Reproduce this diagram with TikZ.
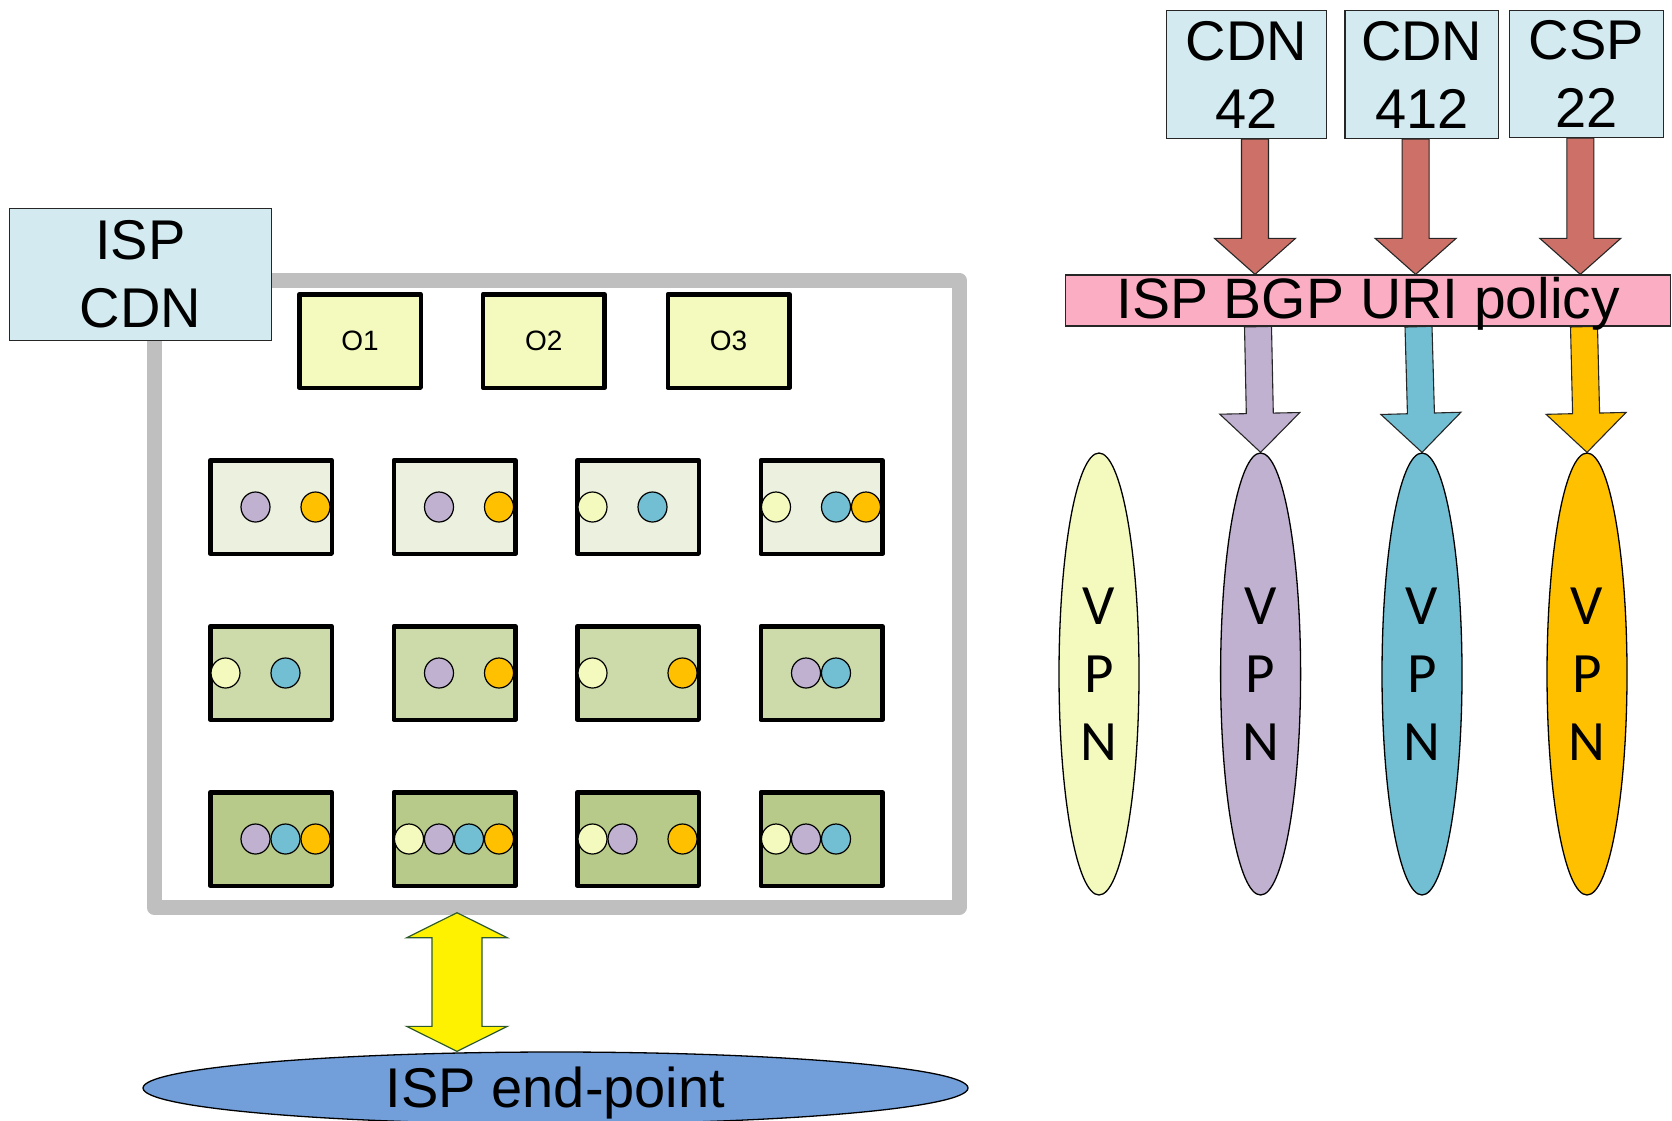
\documentclass[tikz,border=0pt]{standalone}
\usepackage{fontspec}
\setmainfont{Liberation Sans}
\newfontfamily\vpnfont{Carlito}
\usetikzlibrary{shapes.geometric,calc,backgrounds}

\definecolor{cdnblue}{HTML}{D2EAF0}
\definecolor{oyellow}{HTML}{F4F9BE}
\definecolor{rowa}{HTML}{EBF0DF}
\definecolor{rowb}{HTML}{CDDBAB}
\definecolor{rowc}{HTML}{B7CA89}
\definecolor{vpnyellow}{HTML}{F4F9BE}
\definecolor{vpnpurple}{HTML}{C0B1D1}
\definecolor{vpnblue}{HTML}{72BFD3}
\definecolor{vpnorange}{HTML}{FFC000}
\definecolor{policypink}{HTML}{FAADC3}
\definecolor{peerred}{HTML}{CD7168}
\definecolor{endblue}{HTML}{729EDA}
\definecolor{framegray}{HTML}{BFBFBF}
\definecolor{linkgreen}{HTML}{2E5A2E}

\tikzset{
  cdnbox/.style={draw=black!85, line width=1.3pt, fill=cdnblue, inner sep=0pt, align=center, font=\fontsize{56}{68}\selectfont},
  obox/.style={draw, line width=4.5pt, line join=round, fill=oyellow, minimum width=121.5pt, minimum height=93.5pt, font=\fontsize{28}{34}\selectfont},
  cachebox/.style={draw, line width=4.5pt, line join=round, minimum width=121.5pt, minimum height=93.5pt},
  flow/.style={ellipse, draw, line width=1.2pt, minimum width=29pt, minimum height=30pt, inner sep=0pt},
  vpn/.style={ellipse, draw, line width=1.3pt, minimum width=80pt, minimum height=442pt, inner sep=0pt, align=center, font=\vpnfont\fontsize{57}{68}\selectfont},
}

% fat arrow: style, tail, tip, shaft half width, head half width, head length
\newcommand{\blockarrow}[6]{%
  \path (#2) coordinate (ba-a) (#3) coordinate (ba-b);
  \path ($(ba-b)!#6!(ba-a)$) coordinate (ba-h);
  \filldraw[#1] ($(ba-a)!#4!90:(ba-b)$) -- ($(ba-h)!#4!-90:(ba-a)$)
    -- ($(ba-h)!#5!-90:(ba-a)$) -- (ba-b) -- ($(ba-h)!#5!90:(ba-a)$)
    -- ($(ba-h)!#4!90:(ba-a)$) -- ($(ba-a)!#4!-90:(ba-b)$) -- cycle;
}

\begin{document}
\begin{tikzpicture}[x=1pt, y=-1pt]
    \useasboundingbox (0,0) rectangle (1672,1120);

    % ISP network frame
    \node[draw=framegray, line width=15pt, line join=round, minimum width=805pt, minimum height=627.5pt, inner sep=0pt] (frame) at (556.5,593.75) {};
    \node[cdnbox, minimum width=262pt, minimum height=132pt] (ispcdn) at (140.5,274.5) {ISP\\CDN};

    % Origins
    \foreach \x/\lbl in {360/O1, 543.8/O2, 728.5/O3}
    \node[obox] (\lbl) at (\x,341) {\lbl};

    % Caches
    \foreach \r/\y/\clr in {1/507/rowa, 2/673/rowb, 3/839/rowc}
    \foreach \c/\x in {1/271, 2/454.5, 3/638, 4/821.5}
    \node[cachebox, fill=\clr] (c\r\c) at (\x,\y) {};

    % Cached flows (box/slot/colour)
    \foreach \bx/\s/\clr in {11/2/vpnpurple, 11/4/vpnorange, 12/2/vpnpurple, 12/4/vpnorange,
        13/1/vpnyellow, 13/3/vpnblue, 14/1/vpnyellow, 14/3/vpnblue, 14/4/vpnorange,
        21/1/vpnyellow, 21/3/vpnblue, 22/2/vpnpurple, 22/4/vpnorange,
        23/1/vpnyellow, 23/4/vpnorange, 24/2/vpnpurple, 24/3/vpnblue,
        31/2/vpnpurple, 31/3/vpnblue, 31/4/vpnorange,
        32/1/vpnyellow, 32/2/vpnpurple, 32/3/vpnblue, 32/4/vpnorange,
        33/1/vpnyellow, 33/2/vpnpurple, 33/4/vpnorange,
        34/1/vpnyellow, 34/2/vpnpurple, 34/3/vpnblue}
    \node[flow, fill=\clr] (f\bx\s) at ($(c\bx)+({-45.5+30*(\s-1)},0)$) {};

    % End-point
    \node[ellipse, draw, line width=1.3pt, fill=endblue, minimum width=825pt, minimum height=72pt, inner sep=0pt, text height=41pt, text depth=3pt, font=\fontsize{56}{68}\selectfont] (endpoint) at (555.5,1088) {ISP end-point};

    % Two-way link
    \path ($(457,0 |- frame.south)+(0,-2.3)$) coordinate (lk-a) (457,0 |- endpoint.north) coordinate (lk-b);
    \path ($(lk-a)!25pt!(lk-b)$) coordinate (lk-ha) ($(lk-b)!25pt!(lk-a)$) coordinate (lk-hb);
    \filldraw[fill=yellow, draw=linkgreen, line width=1.2pt] (lk-a) -- ($(lk-ha)!50.3pt!90:(lk-b)$) -- ($(lk-ha)!25pt!90:(lk-b)$)
        -- ($(lk-hb)!25pt!-90:(lk-a)$) -- ($(lk-hb)!50.3pt!-90:(lk-a)$) -- (lk-b)
        -- ($(lk-hb)!50.3pt!90:(lk-a)$) -- ($(lk-hb)!25pt!90:(lk-a)$)
        -- ($(lk-ha)!25pt!-90:(lk-b)$) -- ($(lk-ha)!50.3pt!-90:(lk-b)$) -- cycle;

    % Peers
    \node[cdnbox, minimum width=160pt, minimum height=128pt] (cdn42) at (1246.5,74.5) {CDN\\42};
    \node[cdnbox, minimum width=153.5pt, minimum height=128pt] (cdn412) at (1421.75,74.5) {CDN\\412};
    \node[cdnbox, minimum width=154pt, minimum height=127pt] (csp22) at (1586.5,74) {CSP\\22};

    % Policy
    \node[draw=black!85, line width=1.3pt, fill=policypink, minimum width=605pt, minimum height=51pt, inner sep=0pt, text height=41pt, text depth=6pt, font=\fontsize{57}{68}\selectfont] (policy) at (1368,300.5) {ISP BGP URI policy};

    % VPNs
    \foreach \x/\clr/\name in {1099/vpnyellow/vpna, 1260.6/vpnpurple/vpnb, 1422/vpnblue/vpnc, 1587/vpnorange/vpnd}
    \node[vpn, fill=\clr] (\name) at (\x,674) {V\\P\\N};

    \begin{scope}[on background layer]
    \foreach \src/\x in {cdn42/1255, cdn412/1415.6, csp22/1580.3}
    \blockarrow{fill=peerred, draw=black!85, line width=1.1pt}{\x,0 |- \src.south}{\x,0 |- policy.north}{13.5pt}{40.5pt}{36pt};
    \foreach \dst/\x/\clr in {vpnb/1258/vpnpurple, vpnc/1418.5/vpnblue, vpnd/1584/vpnorange}
    \blockarrow{fill=\clr, draw=black!85, line width=1.1pt}{\x,0 |- policy.south}{\dst.north}{13.5pt}{40pt}{39pt};
    \end{scope}
\end{tikzpicture}
\end{document}
